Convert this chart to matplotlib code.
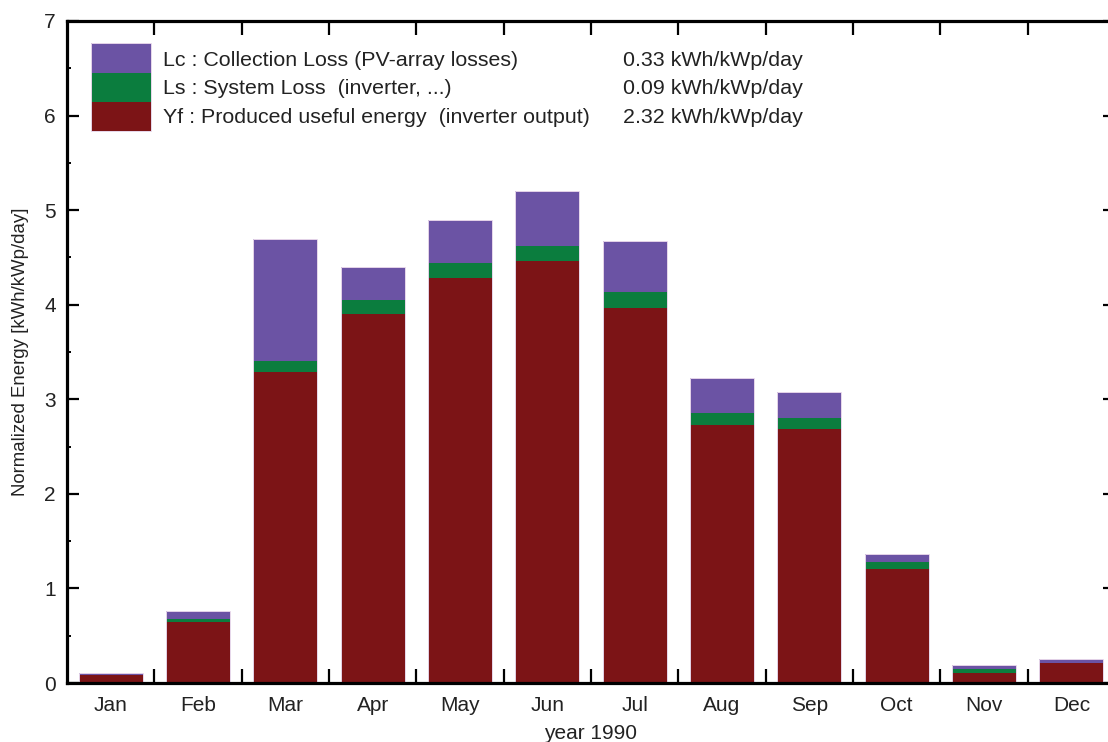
import numpy as np
import matplotlib
matplotlib.use("Agg")
import matplotlib.pyplot as plt
from matplotlib.patches import Rectangle
from matplotlib.ticker import MultipleLocator, FixedLocator

plt.rcParams['font.family'] = ['Liberation Sans', 'DejaVu Sans']

months = ['Jan', 'Feb', 'Mar', 'Apr', 'May', 'Jun', 'Jul', 'Aug', 'Sep', 'Oct', 'Nov', 'Dec']
# normalized energy per month, kWh/kWp/day
yf = [0.085, 0.645, 3.29, 3.90, 4.28, 4.46, 3.97, 2.73, 2.69, 1.21, 0.105, 0.21]
ls = [0.003, 0.035, 0.12, 0.15, 0.16, 0.16, 0.16, 0.13, 0.11, 0.07, 0.045, 0.005]
lc = [0.02, 0.085, 1.28, 0.35, 0.46, 0.58, 0.54, 0.37, 0.28, 0.08, 0.04, 0.035]

legend_labels = ['Lc : Collection Loss (PV-array losses)',
                 'Ls : System Loss  (inverter, ...)',
                 'Yf : Produced useful energy  (inverter output)']
legend_values = ['0.33 kWh/kWp/day', '0.09 kWh/kWp/day', '2.32 kWh/kWp/day']

c_lc = '#6b53a4'
c_ls = '#0b7d3e'
c_yf = '#7c1416'
edge = '#e6d6ea'
txt = '#222222'

fig = plt.figure(figsize=(11.08, 7.42), dpi=100)
ax = fig.add_axes([0.0605, 0.0795, 0.9458, 0.8922])

x = np.arange(1, 13)
yf_a = np.array(yf)
ls_a = np.array(ls)
lc_a = np.array(lc)
w = 0.73
ax.bar(x, yf_a, w, color=c_yf, linewidth=0, zorder=2)
ax.bar(x, ls_a, w, bottom=yf_a, color=c_ls, linewidth=0, zorder=2)
ax.bar(x, lc_a, w, bottom=yf_a + ls_a, color=c_lc, linewidth=0, zorder=2)
# light outline around each full stack
ax.bar(x, yf_a + ls_a + lc_a, w, fill=False, edgecolor=edge, linewidth=0.7, zorder=3)

ax.set_xlim(0.5, 12.5)
ax.set_ylim(0, 7)

for s in ax.spines.values():
    s.set_linewidth(2.3)
    s.set_zorder(4)

ax.xaxis.set_major_locator(FixedLocator(x))
ax.set_xticklabels(months)
ax.xaxis.set_minor_locator(FixedLocator(np.arange(1.5, 12.5, 1.0)))
ax.tick_params(axis='x', which='major', length=0, pad=9, labelsize=15, labelcolor=txt)
ax.tick_params(axis='x', which='minor', direction='in', length=10, width=1.6,
               top=True, bottom=True)

ax.yaxis.set_major_locator(MultipleLocator(1))
ax.yaxis.set_minor_locator(MultipleLocator(0.5))
ax.tick_params(axis='y', which='major', direction='in', length=8.5, width=1.6,
               left=True, right=True, pad=8, labelsize=15, labelcolor=txt)
ax.tick_params(axis='y', which='minor', direction='in', length=3, width=1.4,
               left=True, right=True)

ax.set_xlabel('year 1990', fontsize=15, color=txt, labelpad=7)
ax.set_ylabel('Normalized Energy [kWh/kWp/day]', fontsize=13.4, color=txt, labelpad=11)

# legend block drawn in axes fraction
colors = [c_lc, c_ls, c_yf]
tops = [0.9668, 0.9215, 0.8776, 0.8338]
for i, c in enumerate(colors):
    ax.add_patch(Rectangle((0.0229, tops[i + 1]), 0.0573, tops[i] - tops[i + 1],
                           transform=ax.transAxes, facecolor=c, edgecolor='none', zorder=5))
ax.add_patch(Rectangle((0.0229, tops[3]), 0.0573, tops[0] - tops[3], transform=ax.transAxes,
                       fill=False, edgecolor=edge, linewidth=0.7, zorder=6))

rows = [0.9396, 0.8973, 0.8535]
for lab, val, yy in zip(legend_labels, legend_values, rows):
    ax.text(0.0916, yy, lab, transform=ax.transAxes, fontsize=15.4, va='center', color=txt)
    ax.text(0.5305, yy, val, transform=ax.transAxes, fontsize=15.4, va='center', color=txt)

fig.savefig('out.png', dpi=100)
